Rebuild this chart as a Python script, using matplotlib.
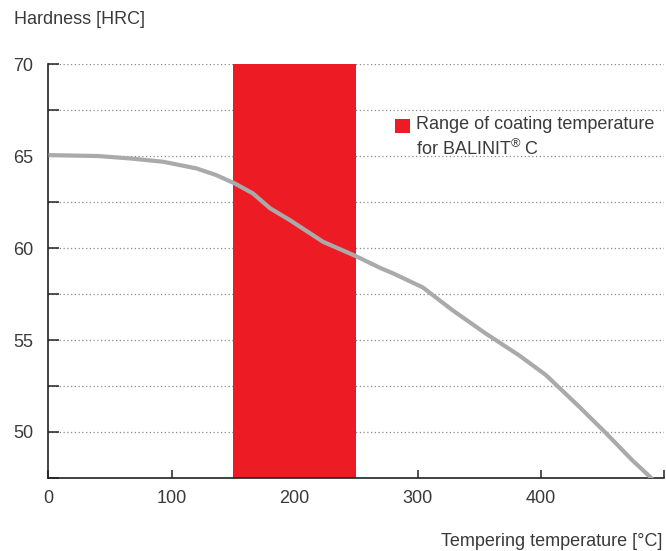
import matplotlib
matplotlib.use("Agg")
import matplotlib.pyplot as plt
from matplotlib.patches import Rectangle
from matplotlib.legend_handler import HandlerPatch

plt.rcParams['font.family'] = ['Liberation Sans', 'DejaVu Sans']
plt.rcParams['mathtext.fontset'] = 'custom'
plt.rcParams['mathtext.rm'] = 'Liberation Sans'
plt.rcParams['mathtext.default'] = 'regular'

# curve
temp = [0, 40, 66, 93, 120, 136, 151, 166, 180, 196, 223, 249, 270, 280,
        304, 328, 355, 382, 404, 431, 453, 474, 490, 493]
hardness = [65.05, 65.0, 64.87, 64.69, 64.33, 63.97, 63.52, 62.97, 62.16,
            61.52, 60.34, 59.58, 58.9, 58.62, 57.86, 56.63, 55.36, 54.18,
            53.1, 51.38, 49.93, 48.48, 47.48, 47.25]

coat_start, coat_end = 150, 250
coat_label = "Range of coating temperature\nfor BALINIT$^{\u00ae}$ C"

y_ticks = [47.5, 50, 52.5, 55, 57.5, 60, 62.5, 65, 67.5, 70]
x_ticks = [0, 100, 200, 300, 400, 500]

text_col = '#3a3a3a'
axis_col = '#222222'


def top_square(legend, orig_handle, xdescent, ydescent, width, height, fontsize):
    # put the square beside the first line of the two-line label
    return Rectangle((-xdescent, -ydescent + 0.62 * fontsize), width, height)


fig = plt.figure(figsize=(6.66, 5.51), dpi=100)
ax = fig.add_axes([0.0728, 0.1325, 0.9242, 0.7513])

for yv in y_ticks[1:]:
    ax.axhline(yv, color='#8a8a8a', linewidth=0.9, linestyle=(0, (1, 2)), zorder=1)

band = ax.axvspan(coat_start, coat_end, color='#ED1C24', linewidth=0, zorder=2, label=coat_label)
ax.plot(temp, hardness, color='#aaaaaa', linewidth=3, zorder=3,
        solid_capstyle='butt', solid_joinstyle='round')

ax.set_xlim(0, 500)
ax.set_ylim(47.5, 70)

ax.set_yticks(y_ticks)
ax.set_yticklabels(['' if v % 5 else '%d' % v for v in y_ticks])
ax.set_xticks(x_ticks)
ax.set_xticklabels(['%d' % v if v < 500 else '' for v in x_ticks])

ax.tick_params(axis='y', direction='in', length=8, width=1.1, color=axis_col,
               labelsize=13, labelcolor=text_col, pad=11)
ax.tick_params(axis='x', direction='in', length=6, width=1.1, color=axis_col,
               labelsize=13, labelcolor=text_col, pad=9)

for s in ['top', 'right']:
    ax.spines[s].set_visible(False)
for s in ['left', 'bottom']:
    ax.spines[s].set_color(axis_col)
    ax.spines[s].set_linewidth(1.2)

leg = ax.legend(loc='upper left', bbox_to_anchor=(0.563, 0.875), frameon=False,
                fontsize=13, handlelength=0.85, handleheight=0.85,
                handletextpad=0.3, borderpad=0, borderaxespad=0,
                handler_map={band: HandlerPatch(patch_func=top_square)})
for t in leg.get_texts():
    t.set_color(text_col)
    t.set_linespacing(1.35)

fig.text(0.021, 1 - 19 / 551, 'Hardness [HRC]', fontsize=13, color=text_col,
         ha='left', va='center')
fig.text(0.994, 1 - 541 / 551, 'Tempering temperature [\u00b0C]', fontsize=13,
         color=text_col, ha='right', va='center')

fig.savefig('out.png', dpi=100)
